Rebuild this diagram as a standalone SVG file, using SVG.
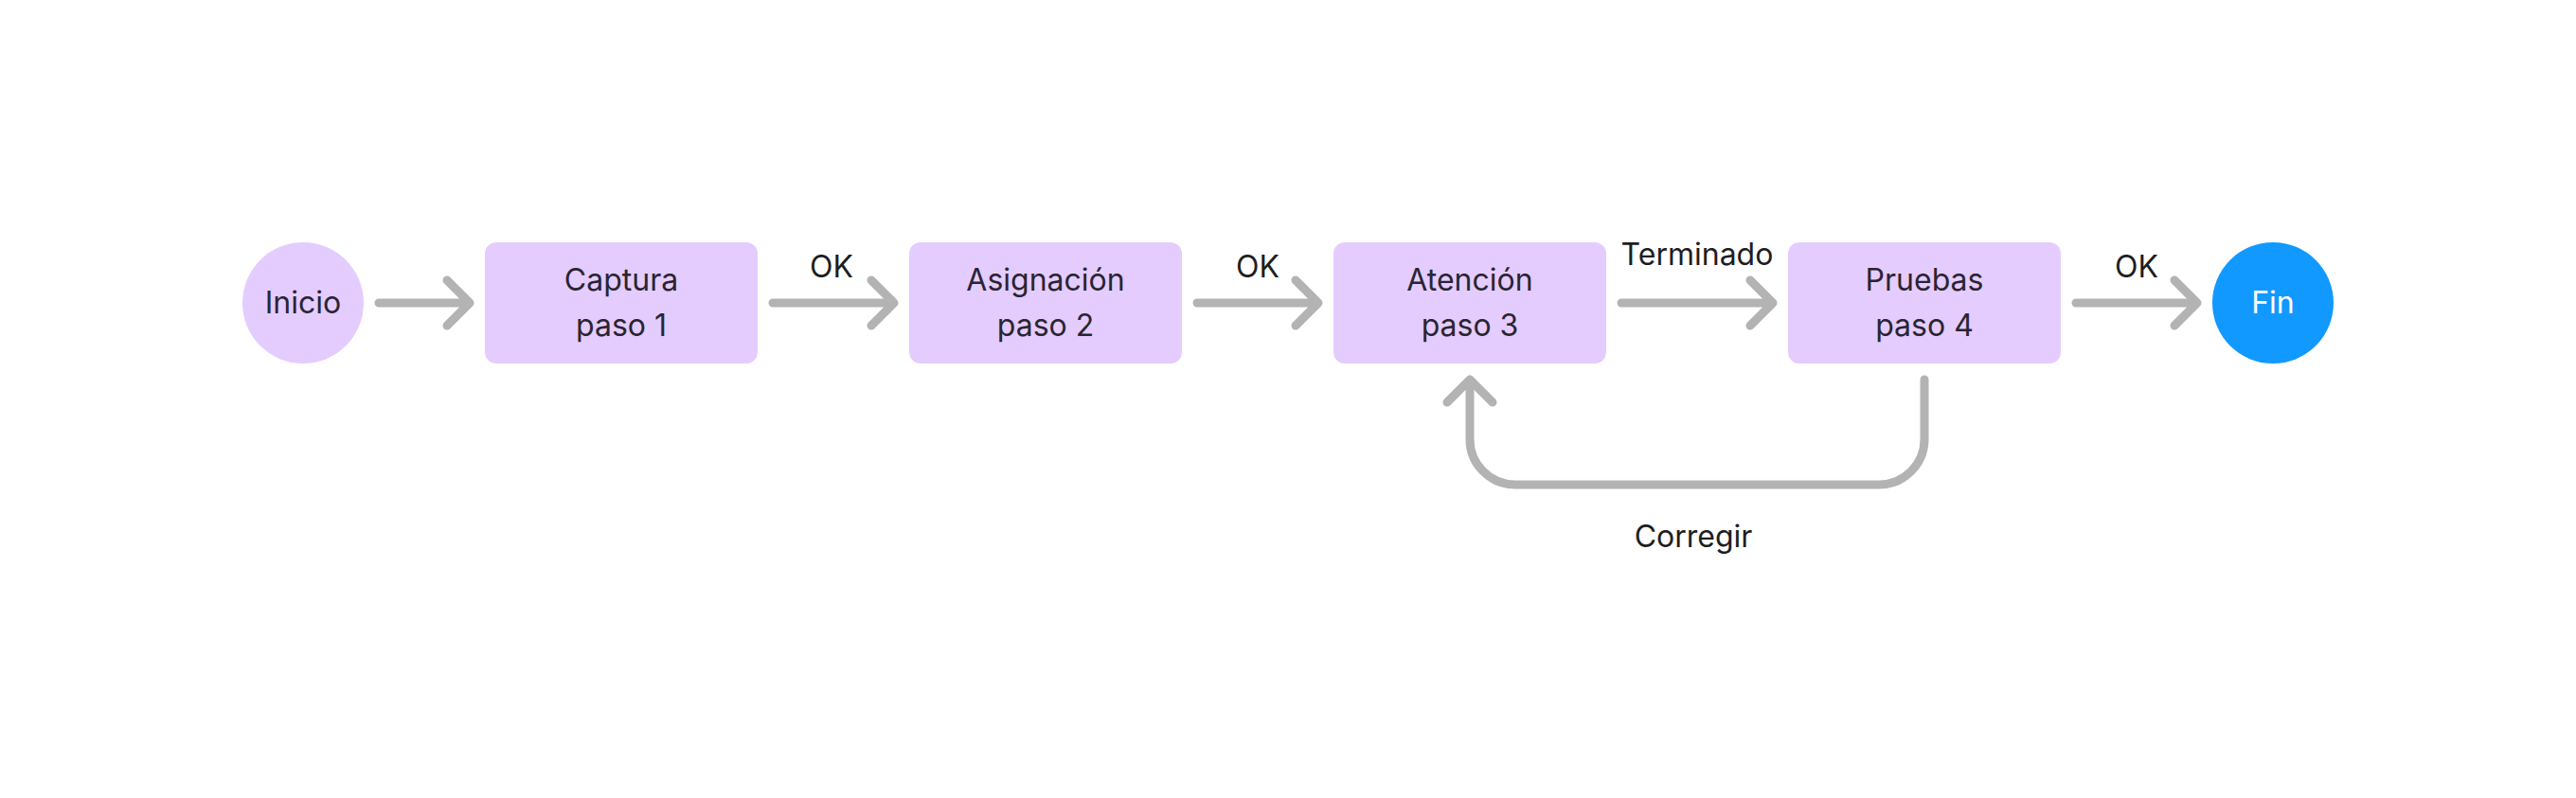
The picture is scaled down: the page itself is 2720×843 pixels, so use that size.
<svg xmlns="http://www.w3.org/2000/svg" width="2720" height="843" viewBox="0 0 2720 843">
<style>
.box{fill:#e4ccff}
.fin{fill:#1199ff}
.nt{font-family:Inter,"Liberation Sans",sans-serif;font-size:32px;fill:#2a2433;text-anchor:middle}
.ft{font-family:Inter,"Liberation Sans",sans-serif;font-size:32px;fill:#ffffff;text-anchor:middle}
.lbl{font-family:Inter,"Liberation Sans",sans-serif;font-size:32px;fill:#1e1e1e;text-anchor:middle}
.edge{fill:none;stroke:#b3b3b3;stroke-width:9;stroke-linecap:round;stroke-linejoin:round}
</style>
<rect width="2720" height="843" fill="#ffffff"/>
<g id="inicio"><circle class="box" cx="320" cy="320" r="64"/><text class="nt" x="320" y="331">Inicio</text></g>
<g id="captura"><rect class="box" x="512" y="256" width="288" height="128" rx="12"/><text class="nt" x="656" y="307">Captura</text><text class="nt" x="656" y="355">paso 1</text></g>
<g id="asignacion"><rect class="box" x="960" y="256" width="288" height="128" rx="12"/><text class="nt" x="1104" y="307">Asignación</text><text class="nt" x="1104" y="355">paso 2</text></g>
<g id="atencion"><rect class="box" x="1408" y="256" width="288" height="128" rx="12"/><text class="nt" x="1552" y="307">Atención</text><text class="nt" x="1552" y="355">paso 3</text></g>
<g id="pruebas"><rect class="box" x="1888" y="256" width="288" height="128" rx="12"/><text class="nt" x="2032" y="307">Pruebas</text><text class="nt" x="2032" y="355">paso 4</text></g>
<g id="fin"><circle class="fin" cx="2400" cy="320" r="64"/><text class="ft" x="2400" y="331">Fin</text></g>
<g id="connectors">
<path class="edge" d="M400 320H496M472 296L496 320L472 344"/>
<path class="edge" d="M816 320H944M920 296L944 320L920 344"/>
<text class="lbl" x="878" y="293">OK</text>
<path class="edge" d="M1264 320H1392M1368 296L1392 320L1368 344"/>
<text class="lbl" x="1328" y="293">OK</text>
<path class="edge" d="M1712 320H1872M1848 296L1872 320L1848 344"/>
<text class="lbl" x="1792" y="280">Terminado</text>
<path class="edge" d="M2192 320H2320M2296 296L2320 320L2296 344"/>
<text class="lbl" x="2256" y="293">OK</text>
<path class="edge" d="M2032 401V464A48 48 0 0 1 1984 512H1600A48 48 0 0 1 1552 464V401M1528 425L1552 401L1576 425"/>
<text class="lbl" x="1788" y="578">Corregir</text>
</g>
</svg>
